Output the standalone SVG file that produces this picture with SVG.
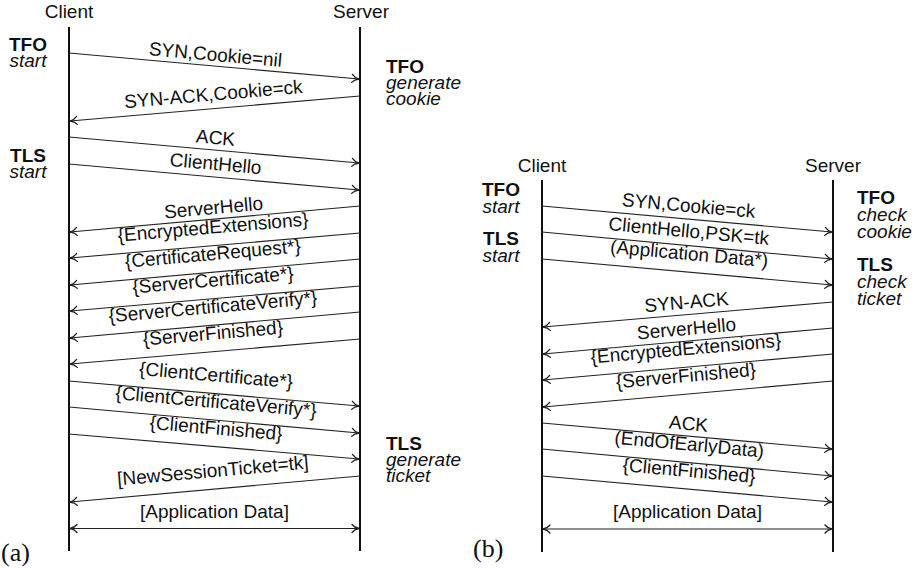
<svg xmlns="http://www.w3.org/2000/svg" width="915" height="568" viewBox="0 0 915 568">
<style>
text{font-family:"Liberation Sans",Arial,sans-serif;font-size:19px;fill:#111}
.b{font-weight:bold}
.i{font-style:italic}
.m{text-anchor:middle}
.cap{font-family:"Liberation Serif","Times New Roman",serif;font-size:26px}
.life{stroke:#111;stroke-width:2;fill:none}
.msg{stroke:#222;stroke-width:1.1;fill:none;marker-end:url(#ah)}
.both{marker-start:url(#ah)}
</style>
<defs>
<marker id="ah" viewBox="-8 -5 9 10" refX="0" refY="0" markerWidth="9" markerHeight="10" markerUnits="userSpaceOnUse" orient="auto-start-reverse" overflow="visible">
<path d="M-7,-4 C-5,-1.5 -2,-0.4 0,0 C-2,0.4 -5,1.5 -7,4" fill="none" stroke="#222" stroke-width="1.3" stroke-linecap="round"/>
</marker>
</defs>
<rect width="915" height="568" fill="#fff"/>

<!-- Panel (a) -->
<g id="a-client"><text class="m" x="69" y="18">Client</text><line class="life" x1="69" y1="27" x2="69" y2="551"/></g>
<g id="a-server"><text class="m" x="361" y="18">Server</text><line class="life" x1="360" y1="27" x2="360" y2="551"/></g>
<g id="a-tfo-start"><text class="m b" x="28" y="51">TFO</text><text class="m i" x="28" y="67">start</text></g>
<g id="a-tls-start"><text class="m b" x="28" y="162">TLS</text><text class="m i" x="28" y="178">start</text></g>
<g id="a-tfo-gen"><text class="b" x="386" y="73">TFO</text><text class="i" x="386" y="89">generate</text><text class="i" x="386" y="105">cookie</text></g>
<g id="a-tls-gen"><text class="b" x="386" y="450">TLS</text><text class="i" x="386" y="466">generate</text><text class="i" x="386" y="482">ticket</text></g>
<g id="a-caption"><text class="cap" x="1" y="561">(a)</text></g>

<!-- Panel (b) -->
<g id="b-client"><text class="m" x="542" y="172">Client</text><line class="life" x1="542" y1="180" x2="542" y2="552"/></g>
<g id="b-server"><text class="m" x="833" y="172">Server</text><line class="life" x1="833" y1="180" x2="833" y2="552"/></g>
<g id="b-tfo-start"><text class="m b" x="501" y="196">TFO</text><text class="m i" x="501" y="213">start</text></g>
<g id="b-tls-start"><text class="m b" x="501" y="245">TLS</text><text class="m i" x="501" y="262">start</text></g>
<g id="b-tfo-check"><text class="b" x="857" y="204">TFO</text><text class="i" x="857" y="221">check</text><text class="i" x="857" y="238">cookie</text></g>
<g id="b-tls-check"><text class="b" x="857" y="271">TLS</text><text class="i" x="857" y="288">check</text><text class="i" x="857" y="305">ticket</text></g>
<g id="b-caption"><text class="cap" x="473" y="557">(b)</text></g>

<g id="connectors">
<!-- (a) -->
<line class="msg" x1="69" y1="53" x2="359" y2="79"/>
<text class="m" transform="translate(214.5,66) rotate(5.1)" y="-5">SYN,Cookie=nil</text>
<line class="msg" x1="360" y1="96" x2="70" y2="121"/>
<text class="m" transform="translate(214.5,108.5) rotate(-4.9)" y="-8">SYN-ACK,Cookie=ck</text>
<line class="msg" x1="69" y1="137" x2="359" y2="163"/>
<text class="m" transform="translate(214.5,150) rotate(5.1)" y="-6">ACK</text>
<line class="msg" x1="69" y1="164" x2="359" y2="190"/>
<text class="m" transform="translate(214.5,177) rotate(5.1)" y="-7">ClientHello</text>
<line class="msg" x1="360" y1="206" x2="70" y2="232"/>
<text class="m" transform="translate(214.5,219) rotate(-5.1)" y="-5">ServerHello</text>
<line class="msg" x1="360" y1="233" x2="70" y2="258"/>
<text class="m" transform="translate(214.5,245.5) rotate(-4.9)" y="-12">{EncryptedExtensions}</text>
<line class="msg" x1="360" y1="259" x2="70" y2="285"/>
<text class="m" transform="translate(214.5,272) rotate(-5.1)" y="-12">{CertificateRequest*}</text>
<line class="msg" x1="360" y1="286" x2="70" y2="311"/>
<text class="m" transform="translate(214.5,298.5) rotate(-4.9)" y="-12">{ServerCertificate*}</text>
<line class="msg" x1="360" y1="312" x2="70" y2="338"/>
<text class="m" transform="translate(214.5,325) rotate(-5.1)" y="-12">{ServerCertificateVerify*}</text>
<line class="msg" x1="360" y1="339" x2="70" y2="364"/>
<text class="m" transform="translate(214.5,351.5) rotate(-4.9)" y="-12">{ServerFinished}</text>
<line class="msg" x1="69" y1="381" x2="359" y2="406"/>
<text class="m" transform="translate(214.5,393.5) rotate(4.9)" y="-12">{ClientCertificate*}</text>
<line class="msg" x1="69" y1="407" x2="359" y2="433"/>
<text class="m" transform="translate(214.5,420) rotate(5.1)" y="-12">{ClientCertificateVerify*}</text>
<line class="msg" x1="69" y1="434" x2="359" y2="459"/>
<text class="m" transform="translate(214.5,446.5) rotate(4.9)" y="-12">{ClientFinished}</text>
<line class="msg" x1="360" y1="476" x2="70" y2="502"/>
<text class="m" transform="translate(214.5,489) rotate(-5.1)" y="-12">[NewSessionTicket=tk]</text>
<line class="msg both" x1="70" y1="528.5" x2="359" y2="528.5"/>
<text class="m" x="214.5" y="518">[Application Data]</text>
<!-- (b) -->
<line class="msg" x1="542" y1="206" x2="832" y2="232"/>
<text class="m" transform="translate(687.5,219) rotate(5.1)" y="-7">SYN,Cookie=ck</text>
<line class="msg" x1="542" y1="232" x2="832" y2="259"/>
<text class="m" transform="translate(687.5,245.5) rotate(5.3)" y="-8">ClientHello,PSK=tk</text>
<line class="msg" x1="542" y1="259" x2="832" y2="285"/>
<text class="m" transform="translate(687.5,272) rotate(5.1)" y="-12">(Application Data*)</text>
<line class="msg" x1="833" y1="302" x2="543" y2="327"/>
<text class="m" transform="translate(687.5,314.5) rotate(-4.9)" y="-6">SYN-ACK</text>
<line class="msg" x1="833" y1="328" x2="543" y2="354"/>
<text class="m" transform="translate(687.5,341) rotate(-5.1)" y="-6">ServerHello</text>
<line class="msg" x1="833" y1="354" x2="543" y2="380"/>
<text class="m" transform="translate(687.5,367) rotate(-5.1)" y="-12">{EncryptedExtensions}</text>
<line class="msg" x1="833" y1="381" x2="543" y2="407"/>
<text class="m" transform="translate(687.5,394) rotate(-5.1)" y="-12">{ServerFinished}</text>
<line class="msg" x1="542" y1="423" x2="832" y2="449"/>
<text class="m" transform="translate(687.5,436) rotate(5.1)" y="-6">ACK</text>
<line class="msg" x1="542" y1="449" x2="832" y2="476"/>
<text class="m" transform="translate(687.5,462.5) rotate(5.3)" y="-12">(EndOfEarlyData)</text>
<line class="msg" x1="542" y1="476" x2="832" y2="502"/>
<text class="m" transform="translate(687.5,489) rotate(5.1)" y="-12">{ClientFinished}</text>
<line class="msg both" x1="543" y1="529" x2="832" y2="529"/>
<text class="m" x="687.5" y="518">[Application Data]</text>
</g>
</svg>
